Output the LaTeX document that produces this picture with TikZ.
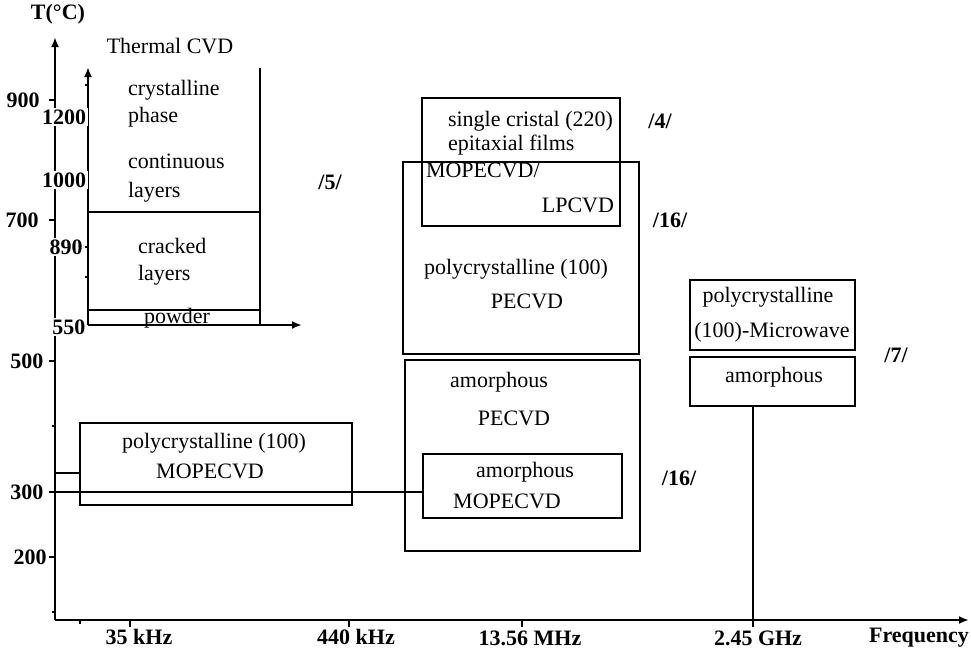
\documentclass[tikz,border=0pt]{standalone}
\usepackage{fontspec}
\setmainfont{Liberation Serif}
\usetikzlibrary{arrows.meta}
\usetikzlibrary{fit}

\tikzset{
  box/.style={draw, line width=1pt, inner sep=0pt},
  txt/.style={inner sep=0pt, text height=8pt, text depth=2.5pt},
  axlbl/.style={inner sep=0pt, font=\bfseries},
  inlbl/.style={inner sep=0.8pt, fill=white, font=\bfseries},
  refno/.style={inner sep=0pt, font=\bfseries}
}

\begin{document}
\begin{tikzpicture}[x=0.5pt, y=-0.5pt, line width=1pt, >={Latex[length=5pt,width=4pt]}]
\useasboundingbox (0,0) rectangle (971,649);
\fontsize{11}{13}\selectfont
% main axes
\coordinate (origin) at (55,620);
\coordinate (ytop) at (55,37);
\coordinate (xend) at (969,620);
\draw[->] (origin) -- (ytop);
\draw[->] (origin) -- (xend);
\foreach \yy in {100,220,361,492,557} \draw (49,\yy) -- (55,\yy);
\foreach \yy in {426,612} \draw (52,\yy) -- (55,\yy);
\foreach \xx in {130,349,522,753} \draw (\xx,620) -- (\xx,627);
\draw (80,620) -- (80,624);
\node[axlbl] (tunit) at (58,14) {T(°C)};
\node[axlbl] (t900) at (23,100) {900};
\node[axlbl] (t700) at (22,220) {700};
\node[axlbl] (t500) at (27,361) {500};
\node[axlbl] (t300) at (27,492) {300};
\node[axlbl] (t200) at (30,557) {200};
\node[axlbl] (f35) at (139,637) {35 kHz};
\node[axlbl] (f440) at (356,637) {440 kHz};
\node[axlbl] (f1356) at (530,638) {13.56 MHz};
\node[axlbl] (f245) at (758,638) {2.45 GHz};
\node[axlbl] (freq) at (919,638) {Frequency};
% thermal CVD inset
\coordinate (iorig) at (88,325);
\draw[->] (iorig) -- (88,67);
\draw[->] (iorig) -- (302,325);
\draw (260,68) -- (260,325);
\draw (88,212) -- (260,212);
\draw (88,310) -- (260,310);
\foreach \yy in {85,117,180,247,277} \draw (85,\yy) -- (88,\yy);
\node[inlbl] (i1200) at (64,117) {1200};
\node[inlbl] (i1000) at (64,180) {1000};
\node[inlbl] (i890) at (66,247) {890};
\node[inlbl] (i550) at (69,327) {550};
\node[txt] (tcvd) at (170,48) {Thermal CVD};
\node[txt, anchor=west] (tcry) at (127,90) {crystalline};
\node[txt, anchor=west] (tpha) at (127,117) {phase};
\node[txt, anchor=west] (tcon) at (127,163) {continuous};
\node[txt, anchor=west] (tlay) at (127,192) {layers};
\node[txt, anchor=west] (tcra) at (137,248) {cracked};
\node[txt, anchor=west] (tlayb) at (137,275) {layers};
\node[txt] (tpow) at (177,318) {powder};
\node[refno] (r5) at (330,182) {/5/};
% boxes
\node[box, fit={(422,98) (620,226)}] (single) {};
\node[box, fit={(403,162) (639,354)}] (polype) {};
\node[box, fit={(405,360) (640,551)}] (amope) {};
\node[box, fit={(423,454) (622,518)}] (amomo) {};
\node[box, fit={(80,423) (352,505)}] (polymo) {};
\node[box, fit={(690,280) (855,350)}] (polymw) {};
\node[box, fit={(690,357) (855,406)}] (amomw) {};
% box texts
\node[txt, anchor=west] (tsin) at (447,121) {single cristal (220)};
\node[txt, anchor=west] (tepi) at (447,145) {epitaxial films};
\node[txt, anchor=west] (tmop) at (425,172) {MOPECVD/};
\node[txt, anchor=east] (tlpc) at (615,207) {LPCVD};
\node[refno] (r4) at (660,121) {/4/};
\node[refno] (r16a) at (670,220) {/16/};
\node[txt, anchor=west] (tpol) at (423,269) {polycrystalline (100)};
\node[txt] (tpec) at (527,303) {PECVD};
\node[txt] (tamo) at (499,382) {amorphous};
\node[txt] (tpecb) at (514,420) {PECVD};
\node[txt] (tamob) at (525,472) {amorphous};
\node[txt] (tmopb) at (507,503) {MOPECVD};
\node[refno] (r16b) at (679,478) {/16/};
\node[txt] (tpolm) at (768,297) {polycrystalline};
\node[txt] (tmic) at (772,332) {(100)-Microwave};
\node[txt] (tamoc) at (774,377) {amorphous};
\node[refno] (r7) at (896,355) {/7/};
\node[txt] (tpolk) at (214,443) {polycrystalline (100)};
\node[txt] (tmopk) at (210,473) {MOPECVD};
% connectors
\coordinate (y473) at (55,473);
\coordinate (y300) at (55,492);
\coordinate (ghz) at (753,620);
\draw (y473) -- (y473 -| polymo.west);
\draw (y300) -- (y300 -| amomo.west);
\draw (ghz) -- (ghz |- amomw.south);
\end{tikzpicture}
\end{document}
